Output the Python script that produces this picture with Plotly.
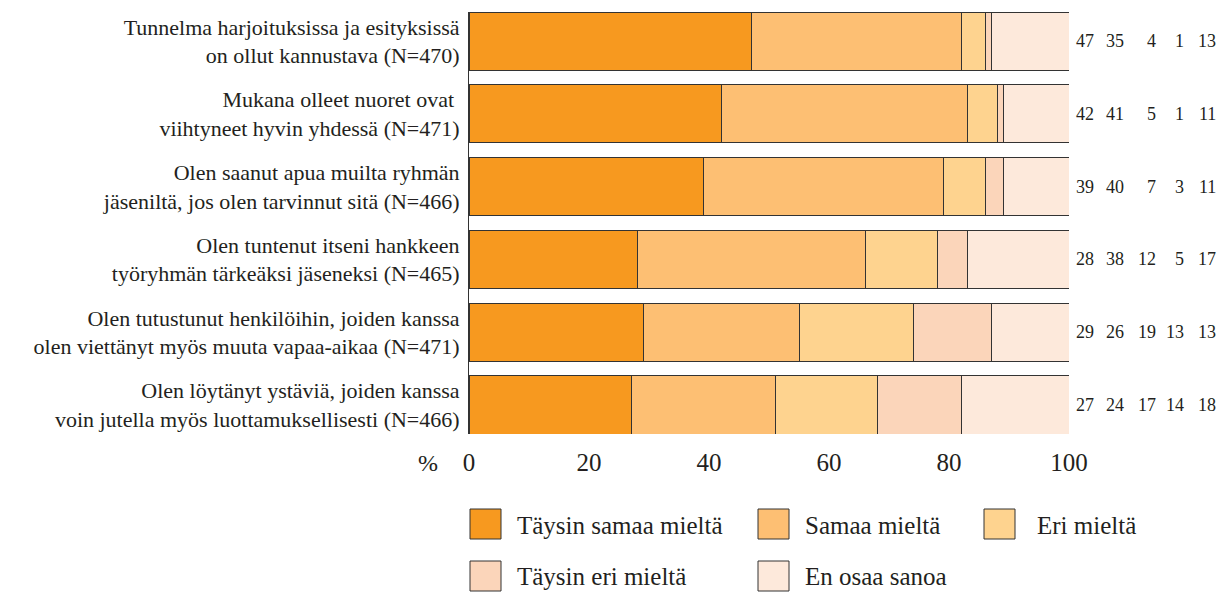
import plotly.graph_objects as go

categories = [
    "Tunnelma harjoituksissa ja esityksissä<br>on ollut kannustava (N=470)",
    "Mukana olleet nuoret ovat <br>viihtyneet hyvin yhdessä (N=471)",
    "Olen saanut apua muilta ryhmän<br>jäseniltä, jos olen tarvinnut sitä (N=466)",
    "Olen tuntenut itseni hankkeen<br>työryhmän tärkeäksi jäseneksi (N=465)",
    "Olen tutustunut henkilöihin, joiden kanssa<br>olen viettänyt myös muuta vapaa-aikaa (N=471)",
    "Olen löytänyt ystäviä, joiden kanssa<br>voin jutella myös luottamuksellisesti (N=466)",
]
series_names = ["Täysin samaa mieltä", "Samaa mieltä", "Eri mieltä", "Täysin eri mieltä", "En osaa sanoa"]
taysin_samaa = [47, 42, 39, 28, 29, 27]
samaa = [35, 41, 40, 38, 26, 24]
eri = [4, 5, 7, 12, 19, 17]
taysin_eri = [1, 1, 3, 5, 13, 14]
en_osaa = [13, 11, 11, 17, 13, 18]
series_values = [taysin_samaa, samaa, eri, taysin_eri, en_osaa]
colors = ["#F7991F", "#FDBF73", "#FED38F", "#FBD5BA", "#FDE9DB"]
x_ticks = [0, 20, 40, 60, 80, 100]

FONT = "Liberation Serif"
TXT = "#231F20"

fig = go.Figure()
for name, vals, col in zip(series_names, series_values, colors):
    fig.add_trace(go.Bar(
        y=categories, x=vals, name=name, orientation="h",
        marker=dict(color=col, line=dict(color="#333333", width=1)),
        showlegend=False, hoverinfo="x+name",
    ))

# plot area (page pixels): x 469..1069, y 12..434
X0, X1, Y0, Y1 = 469.0, 1069.0, 12.0, 434.0
def px(p):
    return (p - X0) / (X1 - X0)
def py(p):
    return (Y1 - p) / (Y1 - Y0)

# value columns at right (right-aligned)
col_right = [1096, 1126, 1158, 1186, 1218]
for ci, vals in enumerate(series_values):
    for cat, v in zip(categories, vals):
        fig.add_annotation(x=px(col_right[ci]), y=cat, xref="paper", yref="y", text=str(v),
                           showarrow=False, xanchor="right", yanchor="middle",
                           font=dict(family=FONT, size=18, color=TXT))

# % label
fig.add_annotation(x=px(428), y=py(463), xref="paper", yref="paper", text="%",
                   showarrow=False, xanchor="center", yanchor="middle",
                   font=dict(family=FONT, size=24, color=TXT))

# custom legend
legend_box = [(470, 509), (758, 509), (984, 509), (470, 561), (758, 561)]
legend_text_x = [515, 803, 1035, 515, 803]
legend_text_y = [525, 525, 525, 576, 576]
for (lx, ly), tx, ty, name, col in zip(legend_box, legend_text_x, legend_text_y, series_names, colors):
    fig.add_shape(type="rect", xref="paper", yref="paper",
                  x0=px(lx), x1=px(lx + 31), y0=py(ly), y1=py(ly + 30),
                  fillcolor=col, line=dict(color="#333333", width=1))
    fig.add_annotation(x=px(tx), y=py(ty), xref="paper", yref="paper",
                       text=name, showarrow=False, xanchor="left", yanchor="middle",
                       font=dict(family=FONT, size=25, color=TXT))

fig.update_layout(
    width=1230, height=592,
    barmode="stack", bargap=0.2,
    plot_bgcolor="white", paper_bgcolor="white",
    margin=dict(l=461, r=169, t=4, b=166),
    font=dict(family=FONT, color=TXT),
    xaxis=dict(range=[0, 100], tickvals=x_ticks, showgrid=False, zeroline=False,
               showline=False, ticks="", tickfont=dict(family=FONT, size=25, color=TXT),
               ticklabelstandoff=11),
    yaxis=dict(autorange=False, range=[5.4, -0.4], showgrid=False, zeroline=False,
               showline=True, linecolor="#333333", linewidth=1, ticks="",
               tickfont=dict(family=FONT, size=22, color=TXT), ticklabelstandoff=4),
)

fig.write_html("out.html")
